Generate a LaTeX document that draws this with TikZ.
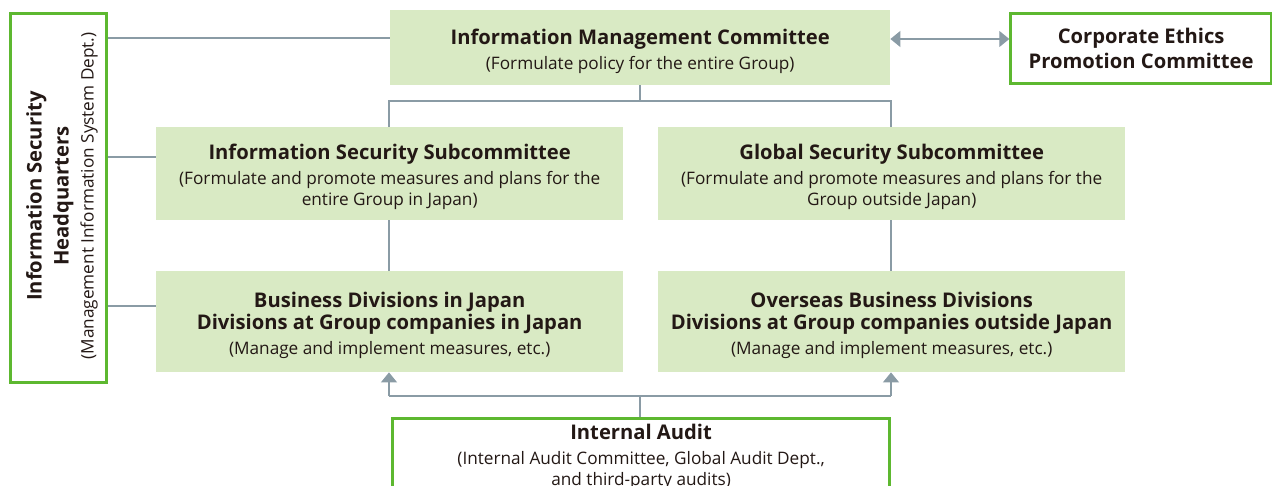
\documentclass[tikz,border=0pt]{standalone}
\usepackage{fontspec}
\setmainfont{Open Sans}
\usetikzlibrary{arrows.meta,positioning}
\definecolor{boxfill}{HTML}{D9EAC4}
\definecolor{gborder}{HTML}{5DB830}
\definecolor{lgrey}{HTML}{8A9BA5}
\definecolor{tdark}{HTML}{231815}
\tikzset{
  basefont/.style={font=\fontsize{17.2}{25}\selectfont},
  fillbox/.style={fill=boxfill, draw=none, inner sep=0pt},
  greenbox/.style={fill=white, draw=gborder, line width=2.6pt, inner sep=0pt, align=center, text=tdark, basefont},
  txt/.style={inner sep=0pt, align=center, text=tdark, basefont},
  conn/.style={draw=lgrey, line width=1.2pt},
  arr/.style={conn, -{Triangle[length=10pt,width=16pt]}},
  arrs/.style={conn, {Triangle[length=10pt,width=16pt]}-{Triangle[length=10pt,width=16pt]}},
}
\newcommand{\ttl}{\fontsize{20.2}{25}\selectfont\bfseries}
\begin{document}
\begin{tikzpicture}[x=1pt,y=-1pt]
\useasboundingbox (0,0) rectangle (1272,486);
\clip (0,0) rectangle (1272,486);
% boxes
\node[fillbox, minimum width=500pt, minimum height=75pt, anchor=north west] (imc) at (390,10) {};
\node[txt] (imct) at ([yshift=-3.5pt]imc.center)
  {{\ttl Information Management Committee}\\(Formulate policy for the entire Group)};
\node[greenbox, minimum width=261pt, minimum height=70pt, anchor=north west] (cep) at (1009.3,12.3)
  {{\ttl Corporate Ethics}\\{\ttl Promotion Committee}};
\node[greenbox, minimum width=96pt, minimum height=369pt, anchor=north west] (hq) at (9.3,12.3) {};
\node[txt, rotate=90] (hqt) at (62,196)
  {{\ttl Information Security}\\[2pt]{\ttl Headquarters}\\(Management Information System Dept.)};
\node[fillbox, minimum width=467pt, minimum height=93pt, anchor=north west] (iss) at (156,127) {};
\node[txt] (isst) at ([yshift=-3.5pt]iss.center)
  {{\ttl Information Security Subcommittee}\\(Formulate and promote measures and plans for the\\[-4pt]entire Group in Japan)};
\node[fillbox, minimum width=467pt, minimum height=93pt, anchor=north west] (gss) at (658,127) {};
\node[txt] (gsst) at ([yshift=-3.5pt]gss.center)
  {{\ttl Global Security Subcommittee}\\(Formulate and promote measures and plans for the\\[-4pt]Group outside Japan)};
\node[fillbox, minimum width=467pt, minimum height=101pt, anchor=north west] (bd) at (156,271) {};
\node[txt] (bdt) at ([yshift=-3.5pt]bd.center)
  {{\ttl Business Divisions in Japan}\\[-3pt]{\ttl Divisions at Group companies in Japan}\\(Manage and implement measures, etc.)};
\node[fillbox, minimum width=467pt, minimum height=101pt, anchor=north west] (obd) at (658,271) {};
\node[txt] (obdt) at ([yshift=-3.5pt]obd.center)
  {{\ttl Overseas Business Divisions}\\[-3pt]{\ttl Divisions at Group companies outside Japan}\\(Manage and implement measures, etc.)};
\node[greenbox, minimum width=497pt, minimum height=77pt, anchor=north west] (ia) at (391.3,417.3)
  {{\ttl Internal Audit}\\(Internal Audit Committee, Global Audit Dept.,\\[-4pt]and third-party audits)};
% coordinates
\coordinate (t1) at (640,101);
\coordinate (tl) at (389,101);
\coordinate (tr) at (891,101);
\coordinate (b1) at (640,396);
\coordinate (bl) at (389,396);
\coordinate (br) at (891,396);
% connectors
\draw[conn] (imc.south -| t1) -- (t1);
\draw[conn] (iss.north -| tl) |- (tr) -- (gss.north -| tr);
\draw[conn] (iss.south -| tl) -- (bd.north -| tl);
\draw[conn] (gss.south -| tr) -- (obd.north -| tr);
\draw[conn] (ia.north -| b1) -- (b1);
\draw[conn] (bl) -- (br);
\draw[arr] (bl) -- (bd.south -| bl);
\draw[arr] (br) -- (obd.south -| br);
\draw[arrs] (imc.east |- 0,39) -- (cep.west |- 0,39);
\draw[conn] (hq.east |- 0,38) -- (imc.west |- 0,38);
\draw[conn] (hq.east |- 0,157) -- (iss.west |- 0,157);
\draw[conn] (hq.east |- 0,306) -- (bd.west |- 0,306);
\end{tikzpicture}
\end{document}
